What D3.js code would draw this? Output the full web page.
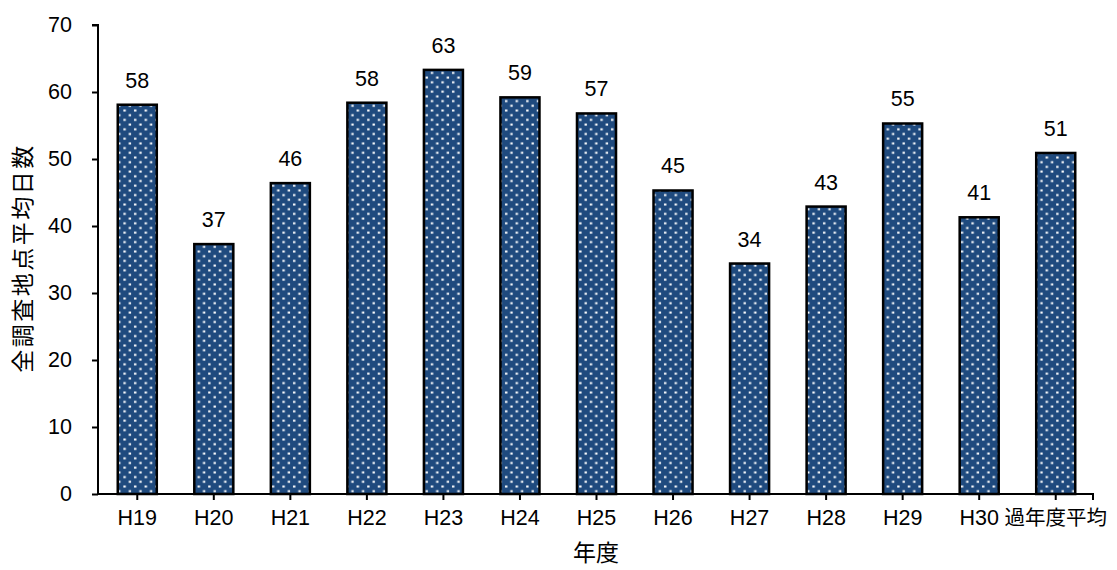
<!DOCTYPE html>
<html>
<head>
<meta charset="utf-8">
<script src="https://cdn.jsdelivr.net/npm/d3@7"></script>
<style>
  html, body { margin: 0; padding: 0; background: #fff; }
  svg { display: block; }
</style>
</head>
<body>
<svg id="chart" width="1117" height="570"></svg>
<script>
// Fiscal years (Heisei era) plus the multi-year average
const categories = ["H19", "H20", "H21", "H22", "H23", "H24", "H25", "H26", "H27", "H28", "H29", "H30", "過年度平均"];
// Average number of days across all survey points
const values = [58.1, 37.3, 46.4, 58.4, 63.3, 59.2, 56.8, 45.3, 34.4, 42.9, 55.3, 41.3, 50.9];
const yTicks = [0, 10, 20, 30, 40, 50, 60, 70];
const yTitle = "全調査地点平均日数";
const xTitle = "年度";

const svg = d3.select("#chart");
const numFont = "'Liberation Sans', Arial, 'Noto Sans CJK JP', sans-serif";
const cjkFont = "'Noto Sans CJK JP', 'Liberation Sans', sans-serif";

const x = d3.scaleBand().domain(categories).range([99, 1094]).paddingInner(0.49).paddingOuter(0.245);
const y = d3.scaleLinear().domain([0, 70]).range([494, 25]);

// Dotted fill pattern for the bars
const defs = svg.append("defs");
const pat = defs.append("pattern")
  .attr("id", "dots")
  .attr("patternUnits", "userSpaceOnUse")
  .attr("width", 10.6).attr("height", 9.4);
pat.append("rect").attr("width", 10.6).attr("height", 9.4).attr("fill", "#1f4a7e");
pat.append("rect").attr("x", 1.5).attr("y", 1.4).attr("width", 2.4).attr("height", 2).attr("fill", "#ffffff");
pat.append("rect").attr("x", 6.8).attr("y", 6.1).attr("width", 2.4).attr("height", 2).attr("fill", "#ffffff");

// Bars
svg.append("g").selectAll("rect")
  .data(values)
  .join("rect")
  .attr("x", (d, i) => x(categories[i]))
  .attr("y", d => y(d))
  .attr("width", x.bandwidth())
  .attr("height", d => y(0) - y(d))
  .attr("fill", "url(#dots)")
  .attr("stroke", "#000")
  .attr("stroke-width", 2.5);

// Value labels
svg.append("g").selectAll("text")
  .data(values)
  .join("text")
  .attr("x", (d, i) => x(categories[i]) + x.bandwidth() / 2)
  .attr("y", d => y(d) - 17)
  .attr("text-anchor", "middle")
  .attr("font-family", numFont)
  .attr("font-size", 21.5)
  .attr("fill", "#000")
  .text(d => d3.format(".0f")(d));

// Y axis
const yAxis = d3.axisLeft(y).tickValues(yTicks).tickSize(6).tickPadding(20);
const gy = svg.append("g").attr("transform", "translate(98,0)").call(yAxis);
gy.select(".domain").attr("stroke", "#000").attr("stroke-width", 2).attr("d", `M-6,${y(70)}H0V${y(0)}`);
gy.selectAll(".tick line").attr("stroke", "#000").attr("stroke-width", 2);
gy.selectAll(".tick text").attr("font-family", numFont).attr("font-size", 21.5).attr("fill", "#000");

// X axis
const xAxis = d3.axisBottom(x).tickSize(6).tickPadding(10);
const gx = svg.append("g").attr("transform", `translate(0,${y(0)})`).call(xAxis);
gx.select(".domain").attr("stroke", "#000").attr("stroke-width", 2).attr("d", `M98,0H1093V6`);
gx.selectAll(".tick line").attr("stroke", "#000").attr("stroke-width", 2);
gx.selectAll(".tick text")
  .attr("font-family", d => /^H/.test(d) ? numFont : cjkFont)
  .attr("font-size", d => /^H/.test(d) ? 21.5 : 20.5)
  .attr("fill", "#000");

// Axis titles
svg.append("text")
  .attr("x", 596).attr("y", 561)
  .attr("text-anchor", "middle")
  .attr("font-family", cjkFont)
  .attr("font-size", 23)
  .attr("fill", "#000")
  .text(xTitle);

svg.append("text")
  .attr("transform", "translate(31,258) rotate(-90)")
  .attr("text-anchor", "middle")
  .attr("font-family", cjkFont)
  .attr("font-size", 23)
  .attr("letter-spacing", 2.5)
  .attr("fill", "#000")
  .text(yTitle);
</script>
</body>
</html>
